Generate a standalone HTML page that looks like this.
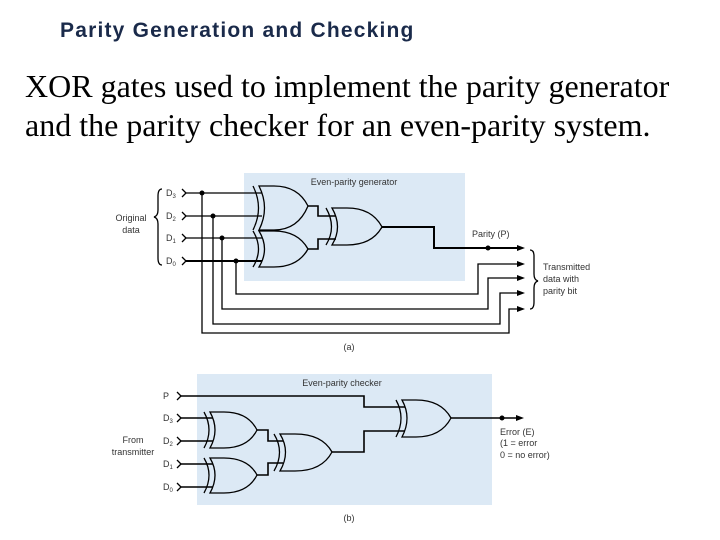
<!DOCTYPE html>
<html><head><meta charset="utf-8"><style>
body{margin:0;background:#fff;width:720px;height:540px;overflow:hidden;position:relative}
.t{position:absolute;font-family:"Liberation Sans",sans-serif}
</style></head><body>
<div class="t" style="left:60px;top:19px;font-size:21px;letter-spacing:1.2px;font-weight:bold;color:#1a2a4a">Parity Generation and Checking</div>
<div class="t" style="left:25px;top:67px;font-family:'Liberation Serif',serif;font-size:32px;line-height:39px;color:#000">XOR gates used to implement the parity generator<br>and the parity checker for an even-parity system.</div>
<svg width="720" height="540" style="position:absolute;left:0;top:0" font-family="Liberation Sans, sans-serif" font-size="9" fill="#333">
<rect x="244" y="173" width="221" height="108" fill="#dce9f5"/>
<rect x="197" y="374" width="295" height="131" fill="#dce9f5"/>
<text x="354" y="185" text-anchor="middle">Even-parity generator</text>
<text x="342" y="386" text-anchor="middle">Even-parity checker</text>
<g stroke="#000" fill="none" stroke-width="1.3">
<polyline points="182,189 186,193 182,197"/><polyline points="182,212 186,216 182,220"/>
<polyline points="182,234 186,238 182,242"/><polyline points="182,257 186,261 182,265"/>
<path d="M162,189 Q158,189 158,196 L158,210 Q158,216 154,217 Q158,218 158,224 L158,258 Q158,265 162,265"/>
<path d="M530,250 Q534,250 534,256 L534,274 Q534,280 538,281 Q534,282 534,288 L534,302 Q534,309 530,309"/>
<path d="M186,193H262M186,216H262M186,238H262" stroke-width="1.3"/>
<path d="M186,261H262" stroke-width="2"/>
<path d="M236,261V294H478V264H517M222,238V309H488V278H517M213,216V324H500V293H517M202,193V333H509V309H517" stroke-width="1.3"/>
<path d="M259,186 L274,186 Q298,186 308,206 Q298,230 274,230 L259,230 Q270,208 259,186 Z"/>
<path d="M253,186 Q264,208 253,230"/>
<path d="M259,231 L274,231 Q298,231 308,249 Q298,267 274,267 L259,267 Q270,249 259,231 Z"/>
<path d="M253,231 Q264,249 253,267"/>
<path d="M332,208 L347,208 Q372,208 382,227 Q372,245 347,245 L332,245 Q343,227 332,208 Z"/>
<path d="M326,208 Q337,227 326,245"/>
<path d="M308,206H318V216H336M308,249H318V239H336" stroke-width="1.6"/>
<path d="M382,227H434V248H517" stroke-width="2"/>
<polyline points="177,392 181,396 177,400"/><polyline points="177,414 181,418 177,422"/>
<polyline points="177,437 181,441 177,445"/><polyline points="177,460 181,464 177,468"/>
<polyline points="177,483 181,487 177,491"/>
<path d="M181,396H364V407H405M181,418H213M181,441H213M181,464H213M181,487H213" stroke-width="1.6"/>
<path d="M210,412 L224,412 Q248,412 257,430 Q248,448 224,448 L210,448 Q220,430 210,412 Z"/>
<path d="M204,412 Q214,430 204,448"/>
<path d="M210,458 L224,458 Q248,458 257,475 Q248,493 224,493 L210,493 Q220,475 210,458 Z"/>
<path d="M204,458 Q214,475 204,493"/>
<path d="M280,434 L295,434 Q322,434 332,452 Q322,471 295,471 L280,471 Q291,452 280,434 Z"/>
<path d="M274,434 Q285,452 274,471"/>
<path d="M402,400 L416,400 Q441,400 451,418 Q441,437 416,437 L402,437 Q412,418 402,400 Z"/>
<path d="M396,400 Q406,418 396,437"/>
<path d="M257,430H268V441H283M257,475H268V463H283M332,452H364V431H405" stroke-width="1.6"/>
<path d="M451,418H518" stroke-width="1.6"/>
</g>
<g fill="#000">
<circle cx="202" cy="193" r="2.5"/><circle cx="213" cy="216" r="2.5"/><circle cx="222" cy="238" r="2.5"/><circle cx="236" cy="261" r="2.5"/>
<circle cx="488" cy="248" r="2.5"/><circle cx="502" cy="418" r="2.5"/>
<polygon points="517,245 525,248 517,251"/><polygon points="517,261 525,264 517,267"/>
<polygon points="517,275 525,278 517,281"/><polygon points="517,290 525,293 517,296"/>
<polygon points="517,306 525,309 517,312"/><polygon points="516,415 524,418 516,421"/>
</g>
<text x="166" y="196">D<tspan font-size="6" dy="2">3</tspan></text>
<text x="166" y="219">D<tspan font-size="6" dy="2">2</tspan></text>
<text x="166" y="241">D<tspan font-size="6" dy="2">1</tspan></text>
<text x="166" y="264">D<tspan font-size="6" dy="2">0</tspan></text>
<text x="131" y="221" text-anchor="middle">Original</text>
<text x="131" y="233" text-anchor="middle">data</text>
<text x="472" y="237">Parity (P)</text>
<text x="543" y="270">Transmitted</text>
<text x="543" y="282">data with</text>
<text x="543" y="294">parity bit</text>
<text x="349" y="350" text-anchor="middle">(a)</text>
<text x="163" y="399">P</text>
<text x="163" y="421">D<tspan font-size="6" dy="2">3</tspan></text>
<text x="163" y="444">D<tspan font-size="6" dy="2">2</tspan></text>
<text x="163" y="467">D<tspan font-size="6" dy="2">1</tspan></text>
<text x="163" y="490">D<tspan font-size="6" dy="2">0</tspan></text>
<text x="133" y="443" text-anchor="middle">From</text>
<text x="133" y="455" text-anchor="middle">transmitter</text>
<text x="500" y="435">Error (E)</text>
<text x="500" y="446">(1 = error</text>
<text x="500" y="458">0 = no error)</text>
<text x="349" y="521" text-anchor="middle">(b)</text>
</svg>
</body></html>
